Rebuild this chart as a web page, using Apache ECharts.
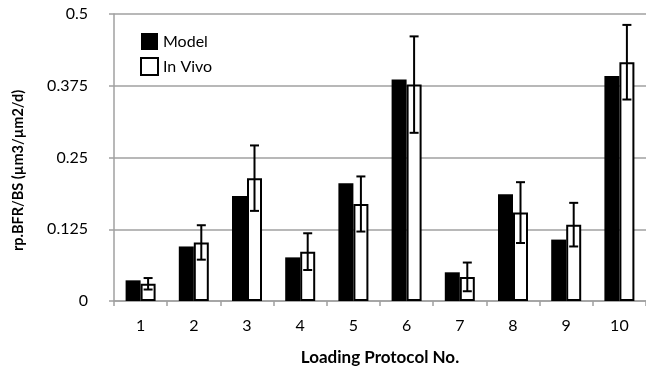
<!DOCTYPE html>
<html>
<head>
<meta charset="utf-8">
<script src="https://cdn.jsdelivr.net/npm/echarts@6/dist/echarts.min.js"></script>
<style>
html,body{margin:0;padding:0;background:#fff;}
#chart{width:646px;height:372px;}
</style>
</head>
<body>
<div id="chart"></div>
<script>
const categories = ['1','2','3','4','5','6','7','8','9','10'];
const modelValues = [0.036, 0.095, 0.183, 0.076, 0.205, 0.386, 0.050, 0.186, 0.107, 0.392];
const inVivoValues = [0.030, 0.102, 0.214, 0.086, 0.169, 0.377, 0.042, 0.154, 0.133, 0.416];
const inVivoErrors = [0.010, 0.030, 0.057, 0.032, 0.048, 0.084, 0.025, 0.053, 0.038, 0.065];
const yTicks = [0, 0.125, 0.25, 0.375, 0.5];

const FONT = 'Lato';
const BAR_W = 15;
const chart = echarts.init(document.getElementById('chart'), null, {renderer: 'canvas'});

const errorData = inVivoValues.map((v, i) => [i, v - inVivoErrors[i], v + inVivoErrors[i]]);

chart.setOption({
  animation: false,
  backgroundColor: '#fff',
  textStyle: {fontFamily: FONT},
  grid: {left: 114, right: -6, top: 14, bottom: 71, containLabel: false},
  legend: {
    orient: 'vertical', left: 135, top: 28,
    itemWidth: 17, itemHeight: 17, itemGap: 7,
    icon: 'rect',
    textStyle: {fontFamily: FONT, fontSize: 16, color: '#000', padding: [0,0,0,0]},
    data: ['Model', 'In Vivo']
  },
  xAxis: {
    type: 'category',
    data: categories,
    name: 'Loading Protocol No.',
    nameLocation: 'middle',
    nameGap: 48,
    nameTextStyle: {fontFamily: FONT, fontSize: 17, fontWeight: 'bold', color: '#000'},
    axisLine: {lineStyle: {color: '#a0a0a0', width: 1.5}},
    axisTick: {show: true, length: 5, lineStyle: {color: '#a0a0a0', width: 1.5}},
    axisLabel: {fontFamily: FONT, fontSize: 16, color: '#000', margin: 17},
    splitLine: {show: false}
  },
  yAxis: {
    type: 'value',
    min: 0, max: 0.5, interval: 0.125,
    name: 'rp.BFR/BS (µm3/µm2/d)',
    nameLocation: 'middle',
    nameGap: 88,
    nameRotate: 90,
    nameTextStyle: {fontFamily: FONT, fontSize: 14.5, fontWeight: 'bold', color: '#000', padding: [0, 26, 0, 0]},
    axisLine: {show: true, lineStyle: {color: '#a0a0a0', width: 1.5}},
    axisTick: {show: true, length: 5, lineStyle: {color: '#a0a0a0', width: 1.5}},
    axisLabel: {fontFamily: FONT, fontSize: 16, color: '#000', margin: 26,
      formatter: v => { const t = yTicks.find(x => Math.abs(x - v) < 1e-9); return t === undefined ? '' : String(t); }},
    splitLine: {show: true, lineStyle: {color: '#a0a0a0', width: 1.5}}
  },
  series: [
    {
      name: 'Model', type: 'bar', data: modelValues,
      barWidth: BAR_W, barGap: '0%',
      itemStyle: {color: '#000'}
    },
    {
      name: 'In Vivo', type: 'bar', data: inVivoValues,
      barWidth: BAR_W, barGap: '0%',
      itemStyle: {color: '#fff', borderColor: '#000', borderWidth: 2}
    },
    {
      name: 'err', type: 'custom', data: errorData, z: 10,
      renderItem: function (params, api) {
        const i = api.value(0);
        const lo = api.coord([i, api.value(1)]);
        const hi = api.coord([i, api.value(2)]);
        const x = lo[0] + BAR_W / 2;
        const cap = 4.5;
        const style = {stroke: '#000', lineWidth: 2, fill: null};
        return {
          type: 'group',
          children: [
            {type: 'line', shape: {x1: x, y1: lo[1], x2: x, y2: hi[1]}, style: style},
            {type: 'line', shape: {x1: x - cap, y1: hi[1], x2: x + cap, y2: hi[1]}, style: style},
            {type: 'line', shape: {x1: x - cap, y1: lo[1], x2: x + cap, y2: lo[1]}, style: style}
          ]
        };
      }
    }
  ]
});
</script>
</body>
</html>
